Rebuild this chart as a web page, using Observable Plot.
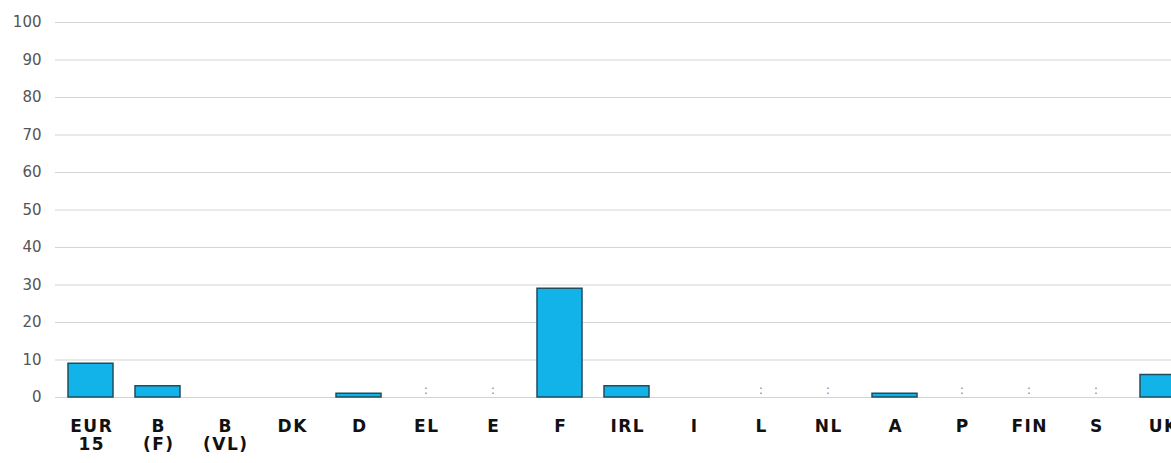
<!DOCTYPE html>
<html>
<head>
<meta charset="utf-8">
<script src="https://cdn.jsdelivr.net/npm/d3@7"></script>
<script src="https://cdn.jsdelivr.net/npm/@observablehq/plot@0.6"></script>
<style>
  html, body { margin: 0; padding: 0; background: #fff; overflow: hidden; }
  #chart svg { overflow: hidden; }
</style>
</head>
<body>
<div id="chart"></div>
<script>
const categories = ["EUR 15", "B (F)", "B (VL)", "DK", "D", "EL", "E", "F", "IRL", "I", "L", "NL", "A", "P", "FIN", "S", "UK"];
const tickLabels = ["EUR\n15", "B\n(F)", "B\n(VL)", "DK", "D", "EL", "E", "F", "IRL", "I", "L", "NL", "A", "P", "FIN", "S", "UK"];
const values = [9, 3, null, null, 1, null, null, 29, 3, null, null, null, 1, null, null, null, 6];
const notAvailable = ["EL", "E", "L", "NL", "P", "FIN", "S"];
const yTicks = [0, 10, 20, 30, 40, 50, 60, 70, 80, 90, 100];

const data = categories.map((c, i) => ({category: c, value: values[i]})).filter(d => d.value != null);
const labelOf = new Map(categories.map((c, i) => [c, tickLabels[i]]));

const chart = Plot.plot({
  width: 1171,
  height: 463,
  marginLeft: 55,
  marginRight: 0,
  marginTop: 20,
  marginBottom: 66,
  style: {background: "#fff", fontFamily: "DejaVu Sans, Verdana, sans-serif"},
  x: {domain: categories, range: [56.5, 1195.5], paddingInner: 0.33, paddingOuter: 0.165, axis: null, label: null},
  y: {domain: [0, 100], range: [397, 22], axis: null, label: null},
  marks: [
    Plot.ruleY(yTicks, {y: d => d, stroke: "#d4d4d4", strokeWidth: 1}),
    Plot.axisY(yTicks, {tickSize: 0, tickPadding: 14, fontSize: 15, fill: "#555", label: null, tickFormat: d => d}),
    Plot.barY(data, {x: "category", y: "value", fill: "#12b3e8", stroke: "#1f4d5e", strokeWidth: 1.5}),
    Plot.text(notAvailable, {x: d => d, y: 0, text: () => ":", dy: -8, fontSize: 13, fill: "#8a8a8a"}),
    Plot.axisX({tickSize: 0, tickPadding: 22, fontSize: 17, fontWeight: "bold", fill: "#111", stroke: "#111", strokeWidth: 0.6, lineHeight: 1.06, label: null, dx: 0.75, tickFormat: d => labelOf.get(d)})
  ]
});
d3.select(chart).selectAll('g[aria-label="x-axis tick label"] text').style("letter-spacing", "1.5px");
document.getElementById("chart").append(chart);
</script>
</body>
</html>
